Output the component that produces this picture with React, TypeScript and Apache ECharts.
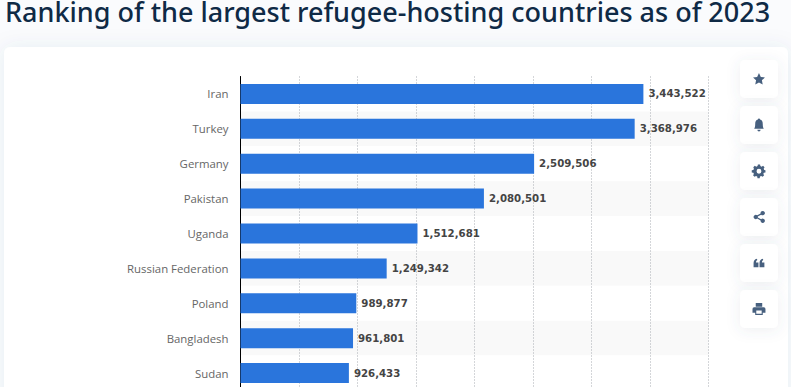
import React, { useEffect, useRef } from "react";
import * as echarts from "echarts";

const titleText = "Ranking of the largest refugee-hosting countries as of 2023";
const categories = ["Iran", "Turkey", "Germany", "Pakistan", "Uganda", "Russian Federation", "Poland", "Bangladesh", "Sudan"];
const refugees = [3443522, 3368976, 2509506, 2080501, 1512681, 1249342, 989877, 961801, 926433];

const iconPaths: Record<string, string> = {
  star: "M12 1l3.4 7.2 7.6 1-5.6 5.3 1.5 7.8L12 18.4l-6.9 3.9 1.5-7.8L1 9.2l7.6-1z",
  bell: "M12 0a2 2 0 0 1 2 2c3.500 1 5 4 5 8 0 4 .5 7 2 9H3c1.500-2 2-5 2-9 0-4 1.500-7 5-8a2 2 0 0 1 2-2zM9 21h6a3 3 0 0 1-6 0z",
  gear: "M10 0h4l.6 3 2.300 1 2.600-1.600 2.800 2.800L20.700 7.800l1 2.200 2.300.6v4l-3 .6-1 2.300 1.600 2.600-2.800 2.800-2.600-1.600-2.300 1-.6 3h-4l-.6-3-2.300-1-2.600 1.600-2.800-2.800 1.600-2.600-1-2.300-3-.6v-4l3-.6 1-2.300L1.500 5.200l2.800-2.800L6.900 4l2.500-1zM12 8a4.500 4.500 0 1 0 0 9 4.500 4.500 0 0 0 0-9z",
  share: "M19 1a4 4 0 1 1-3 6.700L9.800 11a4 4 0 0 1 0 2l6.200 3.300a4 4 0 1 1-1 2L8.800 15a4 4 0 1 1 0-6L15 5.700A4 4 0 0 1 19 1z",
  quote: "M11 20H2v-8C2 8 4 5 8 4l1 2.500C7 7.300 6.500 9 6.500 11H11zM22 20h-9v-8c0-4 2-7 6-8l1 2.500c-2 .8-2.500 2.500-2.500 4.500H22z",
  print: "M6 1h12v7H6zM3 9h18a3 3 0 0 1 3 3v7h-5v4H5v-4H0v-7a3 3 0 0 1 3-3zM7 15v6h10v-6z",
};
const iconNames = ["star", "bell", "gear", "share", "quote", "print"];

export default function App() {
  const ref = useRef<HTMLDivElement>(null);
  useEffect(() => {
    iconNames.forEach((n) => {
      echarts.graphic.registerShape("icon_" + n, echarts.graphic.extendPath(iconPaths[n], {}) as any);
    });
    const chart = echarts.init(ref.current!, undefined, { renderer: "svg" });
    const buttons: any[] = [];
    iconNames.forEach((n, i) => {
      const y = 60 + i * 46;
      buttons.push({
        type: "rect",
        z: 10,
        shape: { x: 740, y, width: 38, height: 38, r: 5 },
        style: { fill: "#ffffff", shadowBlur: 14, shadowColor: "rgba(70,90,120,0.10)", shadowOffsetY: 2 },
      });
      buttons.push({
        type: "icon_" + n,
        z: 11,
        x: 752.5,
        y: y + 12.5,
        scaleX: 0.54,
        scaleY: 0.54,
        style: { fill: "#47607f" },
      });
    });
    chart.setOption({
      animation: false,
      backgroundColor: "#fafbfd",
      title: {
        text: titleText,
        left: 5,
        top: 0,
        padding: 0,
        textStyle: { fontFamily: "'Noto Sans'", fontSize: 27, lineHeight: 22, fontWeight: 500, color: "#0f2a46" },
      },
      graphic: [
        {
          type: "rect",
          z: -10,
          silent: true,
          shape: { x: 4, y: 47, width: 784, height: 400, r: 6 },
          style: { fill: "#ffffff", shadowBlur: 20, shadowColor: "rgba(70,90,120,0.08)" },
        },
        ...buttons,
      ],
      grid: { left: 240.5, top: 76.5, width: 468, height: 314, containLabel: false },
      xAxis: {
        type: "value",
        min: 0,
        max: 4000000,
        interval: 500000,
        axisLabel: { show: false },
        axisLine: { show: false },
        axisTick: { show: false },
        splitLine: { show: true, lineStyle: { type: [1, 2], color: "#a9adb2", width: 1 } },
      },
      yAxis: {
        type: "category",
        inverse: true,
        data: categories,
        axisLine: { show: true, lineStyle: { color: "#000000", width: 1 } },
        axisTick: { show: false },
        axisLabel: { margin: 12, fontFamily: "'Open Sans'", fontSize: 11.4, color: "#666666" },
        splitArea: { show: true, areaStyle: { color: ["#ffffff", "#f9f9f9"] } },
      },
      series: [
        {
          type: "bar",
          data: refugees,
          barWidth: 20,
          itemStyle: { color: "#2a75dc" },
          label: {
            show: true,
            position: "right",
            distance: 5,
            fontFamily: "'DejaVu Sans'",
            fontSize: 10.2,
            fontWeight: "bold",
            color: "#444444",
            formatter: (p: any) => Number(p.value).toLocaleString("en-US"),
          },
        },
      ],
    });
    return () => chart.dispose();
  }, []);
  return (
    <div style={{ position: "absolute", left: 0, top: 0, width: 791, height: 387, overflow: "hidden" }}>
      <div ref={ref} style={{ width: 791, height: 420 }} />
    </div>
  );
}
